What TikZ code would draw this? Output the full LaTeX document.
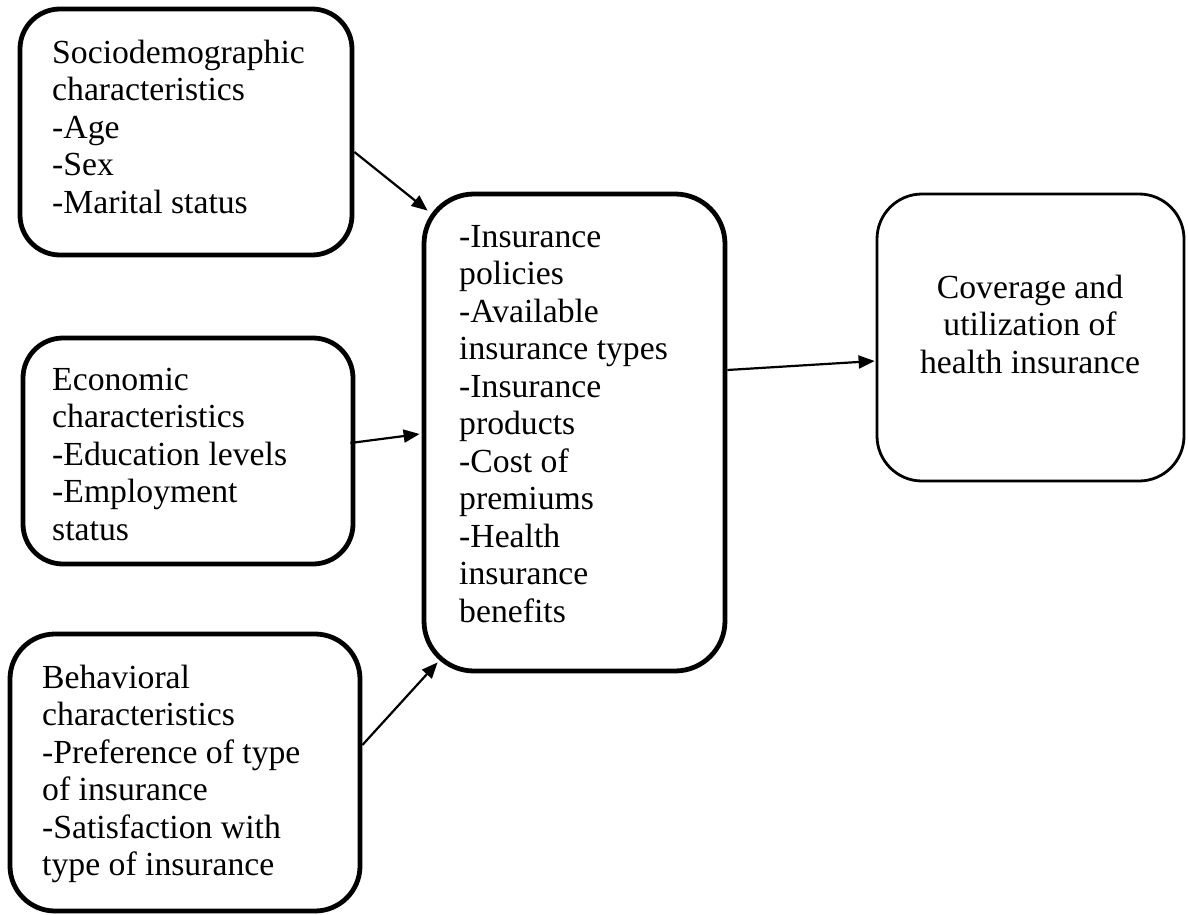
\documentclass[tikz,border=0pt]{standalone}
\usepackage{fontspec}
\setmainfont{Liberation Serif}
\usetikzlibrary{arrows.meta}
\begin{document}
\begin{tikzpicture}[x=1pt,y=-1pt]
\tikzset{
  box/.style={draw, line width=4.8pt, rounded corners=40pt, inner sep=0pt},
  bigbox/.style={box, rounded corners=50pt},
  thinbox/.style={draw, line width=2.8pt, rounded corners=45pt, inner sep=0pt},
  txt/.style={inner sep=0pt, align=left, anchor=base west, font=\fontsize{33.7pt}{37.5pt}\selectfont},
  ctxt/.style={inner sep=0pt, align=center, anchor=base, font=\fontsize{33.7pt}{37.5pt}\selectfont},
  conn/.style={line width=2.2pt, -{Triangle[length=16pt,width=13pt]}}
}
\useasboundingbox (0,0) rectangle (1188,915);
% boxes
\node[box, minimum width=332pt, minimum height=246pt] (socio) at (186,132) {};
\node[box, minimum width=330pt, minimum height=226pt] (econ) at (188,451) {};
\node[box, minimum width=350pt, minimum height=277pt, rounded corners=45pt] (behav) at (185,772.5) {};
\node[bigbox, minimum width=301pt, minimum height=477pt] (mid) at (574.5,432.5) {};
\node[thinbox, minimum width=307pt, minimum height=287pt] (out) at (1030.5,337.5) {};
% texts (anchored at the baseline of the last line)
\node[txt] (socioT) at (52,213) {Sociodemographic\\characteristics\\-Age\\-Sex\\-Marital status};
\node[txt] (econT) at (52,540) {Economic\\characteristics\\-Education levels\\-Employment\\status};
\node[txt] (behavT) at (42,875.5) {Behavioral\\characteristics\\-Preference of type\\of insurance\\-Satisfaction with\\type of insurance};
\node[txt] (midT) at (459,622) {-Insurance\\policies\\-Available\\insurance types\\-Insurance\\products\\-Cost of\\premiums\\-Health\\insurance\\benefits};
\node[ctxt] (outT) at (1030,373) {Coverage and\\utilization of\\health insurance};
% connectors
\draw[conn] ([yshift=-20pt]socio.east) -- ([xshift=6pt,yshift=-19pt]mid.north west);
\draw[conn] ([xshift=-5pt,yshift=8pt]econ.east) -- ([xshift=-2pt,yshift=-1.5pt]mid.west);
\draw[conn] ([yshift=27.5pt]behav.east) -- ([xshift=16pt,yshift=11pt]mid.south west);
\draw[conn] ([yshift=62.5pt]mid.east) -- ([xshift=-1pt,yshift=-23.5pt]out.west);
\end{tikzpicture}
\end{document}
